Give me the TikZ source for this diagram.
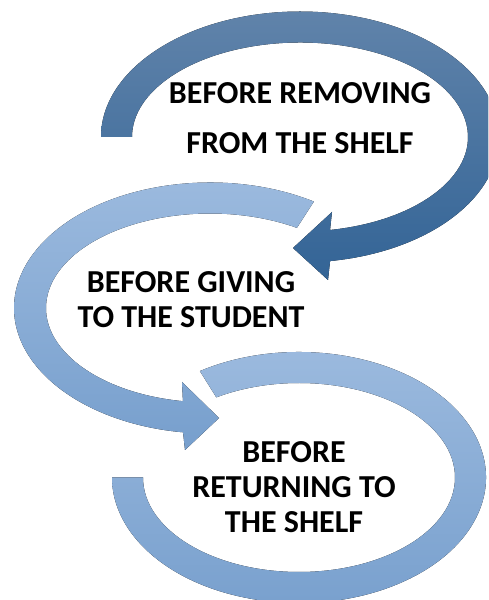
\documentclass[tikz,border=0pt]{standalone}
\usepackage{fontspec}
\setmainfont{Carlito}
\definecolor{darktop}{RGB}{96,131,170}
\definecolor{darkbottom}{RGB}{51,100,150}
\definecolor{lighttop}{RGB}{157,187,223}
\definecolor{lightbottom}{RGB}{119,159,205}
\tikzset{
  stagetext/.style={font=\bfseries\fontsize{32}{35}\selectfont, align=center, inner sep=0pt}
}
\begin{document}
\begin{tikzpicture}[x=1pt,y=1pt]
 \useasboundingbox (0,0) rectangle (488,600);
 \clip (0,0) rectangle (488,600);

 % first arrow, dark
 \begin{scope}[shift={(300,463)}]
  \fill[top color=darktop, bottom color=darkbottom]
   (180:199 and 125.5) arc[start angle=180, end angle=-81.3, x radius=199, y radius=125.5]
   -- (28,-143) -- (-7,-111) -- (32,-75)
   -- (-79.7:168 and 94.5) arc[start angle=-79.7, end angle=180, x radius=168, y radius=94.5] -- cycle;
 \end{scope}

 % second arrow
 \begin{scope}[shift={(210,292)}]
  \fill[top color=lighttop, bottom color=lightbottom]
   (58:196 and 125.5) arc[start angle=58, end angle=262.1, x radius=196, y radius=125.5]
   -- (-25,-142) -- (9,-110) -- (-28,-74)
   -- (260.5:164 and 94.5) arc[start angle=260.5, end angle=58, x radius=164, y radius=94.5] -- cycle;
 \end{scope}

 % third ring, no head
 \begin{scope}[shift={(299,122.5)}]
  \fill[top color=lighttop, bottom color=lightbottom]
   (122:187 and 125.5) arc[start angle=122, end angle=-180, x radius=187, y radius=125.5]
   -- (-180:156 and 94.5) arc[start angle=-180, end angle=122, x radius=156, y radius=94.5] -- cycle;
 \end{scope}

 \node[stagetext, font=\bfseries\fontsize{32}{50}\selectfont] (removing) at (300,482) {BEFORE REMOVING\\FROM THE SHELF};
 \node[stagetext] (giving) at (191,300.5) {BEFORE GIVING\\TO THE STUDENT};
 \node[stagetext] (returning) at (294,112.5) {BEFORE\\RETURNING TO\\THE SHELF};
\end{tikzpicture}
\end{document}
